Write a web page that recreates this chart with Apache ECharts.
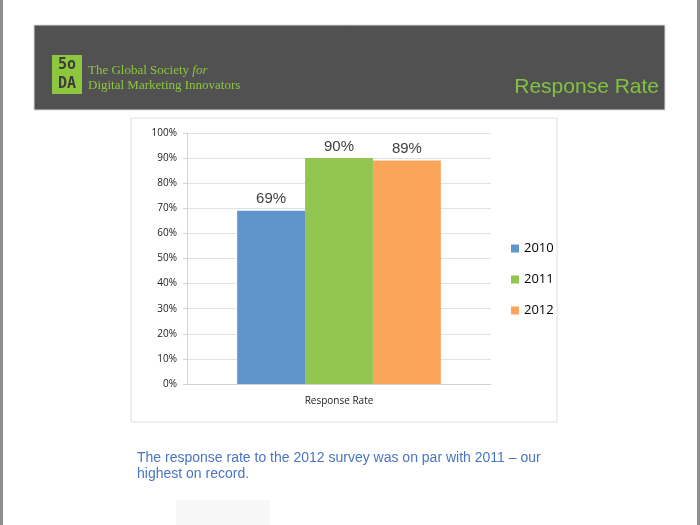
<!DOCTYPE html>
<html>
<head>
<meta charset="utf-8">
<script src="https://cdn.jsdelivr.net/npm/echarts@6/dist/echarts.min.js"></script>
<style>
html,body{margin:0;padding:0;background:#fff;}
#chart{width:700px;height:525px;}
</style>
</head>
<body>
<div id="chart"></div>
<script>
var categories = ['Response Rate'];
var seriesNames = ['2010', '2011', '2012'];
var values2010 = [69];
var values2011 = [90];
var values2012 = [89];
var yTicks = [0, 10, 20, 30, 40, 50, 60, 70, 80, 90, 100];
var colors = ['#5F95CB', '#93C651', '#F9A55A'];

var chart = echarts.init(document.getElementById('chart'));
var labelStyle = {
  show: true, position: 'top', distance: 4,
  formatter: '{c}%', fontSize: 15, color: '#404040',
  fontFamily: 'Liberation Sans'
};
var allValues = [values2010, values2011, values2012];
var series = seriesNames.map(function (n, i) {
  return {
    name: n, type: 'bar', data: allValues[i],
    barGap: '0%', barCategoryGap: '33%',
    itemStyle: { color: colors[i] },
    label: labelStyle, z: 3
  };
});

chart.setOption({
  animation: false,
  backgroundColor: '#fff',
  color: colors,
  grid: { left: 187, right: 209, top: 133, bottom: 141, containLabel: false },
  legend: {
    orient: 'vertical', left: 506, top: 237,
    itemWidth: 8, itemHeight: 8, itemGap: 18, icon: 'rect',
    data: seriesNames,
    textStyle: { fontSize: 13, color: '#000', fontFamily: 'Open Sans' }
  },
  xAxis: {
    type: 'category', data: categories,
    axisLine: { lineStyle: { color: '#d4d4d4' } },
    axisTick: { show: false },
    axisLabel: { fontSize: 10, color: '#222', margin: 12, fontFamily: 'Open Sans' }
  },
  yAxis: {
    type: 'value', min: 0, max: 100, interval: 10,
    axisLine: { show: true, lineStyle: { color: '#d4d4d4' } },
    axisTick: { show: true, length: 4, inside: false, lineStyle: { color: '#d4d4d4' } },
    splitLine: { lineStyle: { color: '#e2e2e2' } },
    axisLabel: {
      fontSize: 10, color: '#222', margin: 10, fontFamily: 'Open Sans',
      formatter: function (v) { return yTicks.indexOf(v) >= 0 ? v + '%' : ''; }
    }
  },
  graphic: [
    { type: 'rect', z: -10, silent: true, shape: { x: 0, y: 0, width: 3, height: 525 }, style: { fill: '#8e8e8e' } },
    { type: 'rect', z: -10, silent: true, shape: { x: 697, y: 0, width: 3, height: 525 }, style: { fill: '#8e8e8e' } },
    { type: 'rect', z: -10, silent: true, shape: { x: 34, y: 25, width: 631, height: 85 }, style: { fill: '#515151', stroke: '#dcdcdc', lineWidth: 1 } },
    { type: 'rect', z: -9, silent: true, shape: { x: 52, y: 55, width: 30, height: 39 }, style: { fill: '#8DC63F' } },
    { type: 'text', z: -8, silent: true, style: { x: 67, y: 65, text: '5o', align: 'center', verticalAlign: 'middle', font: 'bold 15px "DejaVu Sans Mono"', fill: '#3c3c3c' } },
    { type: 'text', z: -8, silent: true, style: { x: 67, y: 84, text: 'DA', align: 'center', verticalAlign: 'middle', font: 'bold 15px "DejaVu Sans Mono"', fill: '#3c3c3c' } },
    { type: 'text', z: -8, silent: true, style: {
        x: 88, y: 71, verticalAlign: 'middle',
        text: 'The Global Society {i|for}',
        font: '13px "Liberation Serif"', fill: '#8DC63F',
        rich: { i: { fontStyle: 'italic', fontFamily: 'Liberation Serif', fontSize: 13, fill: '#8DC63F', color: '#8DC63F' } }
      } },
    { type: 'text', z: -8, silent: true, style: { x: 88, y: 86, verticalAlign: 'middle', text: 'Digital Marketing Innovators', font: '13px "Liberation Serif"', fill: '#8DC63F' } },
    { type: 'text', z: -8, silent: true, style: { x: 659, y: 87, align: 'right', verticalAlign: 'middle', text: 'Response Rate', font: '21px "Liberation Sans"', fill: '#80C341' } },
    { type: 'rect', z: -10, silent: true, shape: { x: 131, y: 118, width: 426, height: 304 }, style: { fill: '#fff', stroke: '#dedede', lineWidth: 1 } },
    { type: 'text', z: -8, silent: true, style: { x: 137, y: 458, verticalAlign: 'middle', text: 'The response rate to the 2012 survey was on par with 2011 \u2013 our', font: '14px "Liberation Sans"', fill: '#4A74C4' } },
    { type: 'text', z: -8, silent: true, style: { x: 137, y: 474, verticalAlign: 'middle', text: 'highest on record.', font: '14px "Liberation Sans"', fill: '#4A74C4' } },
    { type: 'rect', z: -10, silent: true, shape: { x: 176, y: 500, width: 94, height: 25 }, style: { fill: '#f7f7f7' } }
  ],
  series: series
});
</script>
</body>
</html>
